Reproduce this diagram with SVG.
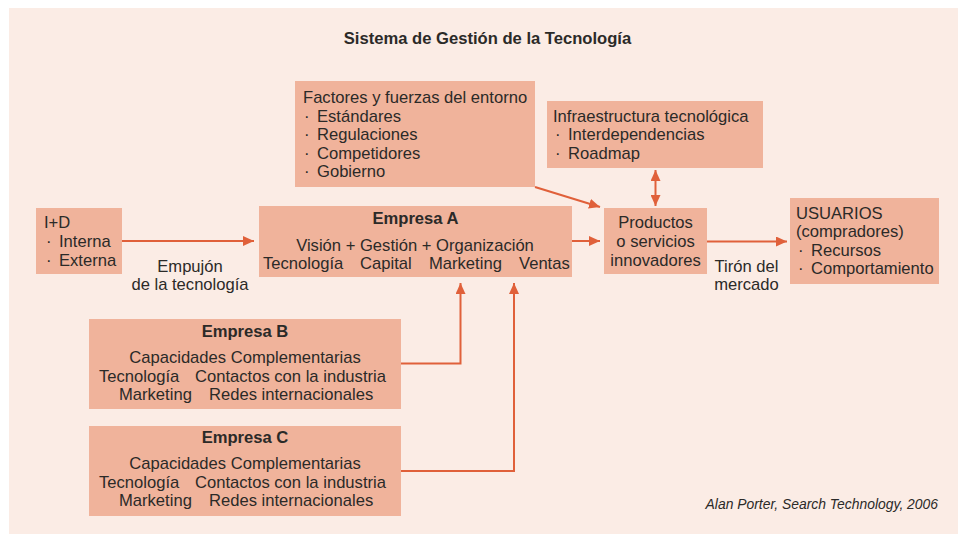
<svg xmlns="http://www.w3.org/2000/svg" width="962" height="534" viewBox="0 0 962 534">
<defs>
<marker id="ah" viewBox="0 0 11 10" refX="11" refY="5" markerWidth="11" markerHeight="10" markerUnits="userSpaceOnUse" orient="auto-start-reverse">
<path d="M0,0 L11,5 L0,10 z" fill="#e0603a"/>
</marker>
<style>
.box{fill:#f0b39b}
.t{font-family:"Liberation Sans",Arial,sans-serif;font-size:16.6px;fill:#2b2a28}
.b{font-weight:bold}
.c{text-anchor:middle}
.ln{fill:none;stroke:#e0603a;stroke-width:2}
.cr{font-family:"Liberation Sans",Arial,sans-serif;font-size:13.9px;font-style:italic;fill:#2b2a28;text-anchor:end}
</style>
</defs>
<rect x="0" y="0" width="962" height="534" fill="#ffffff"/>
<rect x="9" y="8" width="949" height="526" fill="#fbece5"/>
<text class="t b c" x="487.5" y="43.5">Sistema de Gestión de la Tecnología</text>

<g id="factores">
<rect class="box" x="295" y="81" width="240" height="106"/>
<text class="t" x="303" y="103">Factores y fuerzas del entorno</text>
<text class="t" x="304" y="121.5">·</text><text class="t" x="317" y="121.5">Estándares</text>
<text class="t" x="304" y="140">·</text><text class="t" x="317" y="140">Regulaciones</text>
<text class="t" x="304" y="158.5">·</text><text class="t" x="317" y="158.5">Competidores</text>
<text class="t" x="304" y="177">·</text><text class="t" x="317" y="177">Gobierno</text>
</g>

<g id="infraestructura">
<rect class="box" x="547" y="101" width="216" height="67"/>
<text class="t" x="553" y="121.5">Infraestructura tecnológica</text>
<text class="t" x="555" y="140">·</text><text class="t" x="568" y="140">Interdependencias</text>
<text class="t" x="555" y="158.5">·</text><text class="t" x="568" y="158.5">Roadmap</text>
</g>

<g id="id">
<rect class="box" x="36" y="208" width="86" height="66"/>
<text class="t" x="44" y="228">I+D</text>
<text class="t" x="46" y="247">·</text><text class="t" x="59" y="247">Interna</text>
<text class="t" x="46" y="266">·</text><text class="t" x="59" y="266">Externa</text>
</g>

<g id="empresaA">
<rect class="box" x="259" y="206" width="313" height="71"/>
<text class="t b c" x="415.5" y="224">Empresa A</text>
<text class="t c" x="415" y="250.5">Visión + Gestión + Organización</text>
<text class="t" y="269"><tspan x="263">Tecnología</tspan><tspan x="360">Capital</tspan><tspan x="429">Marketing</tspan><tspan x="519">Ventas</tspan></text>
</g>

<g id="productos">
<rect class="box" x="604" y="208" width="103" height="66"/>
<text class="t c" x="655.5" y="227.5">Productos</text>
<text class="t c" x="655.5" y="246.5">o servicios</text>
<text class="t c" x="655.5" y="265.5">innovadores</text>
</g>

<g id="usuarios">
<rect class="box" x="790" y="198" width="149" height="86"/>
<text class="t" x="796" y="218.5">USUARIOS</text>
<text class="t" x="796" y="237">(compradores)</text>
<text class="t" x="798" y="255.5">·</text><text class="t" x="811" y="255.5">Recursos</text>
<text class="t" x="798" y="274">·</text><text class="t" x="811" y="274">Comportamiento</text>
</g>

<g id="empresaB">
<rect class="box" x="89" y="319" width="312" height="90"/>
<text class="t b c" x="245" y="336.5">Empresa B</text>
<text class="t c" x="245" y="362.5">Capacidades Complementarias</text>
<text class="t" y="381.5"><tspan x="99">Tecnología</tspan><tspan x="195">Contactos con la industria</tspan></text>
<text class="t" y="400"><tspan x="119">Marketing</tspan><tspan x="209">Redes internacionales</tspan></text>
</g>

<g id="empresaC">
<rect class="box" x="89" y="426" width="312" height="90"/>
<text class="t b c" x="245" y="443">Empresa C</text>
<text class="t c" x="245" y="468.5">Capacidades Complementarias</text>
<text class="t" y="487.5"><tspan x="99">Tecnología</tspan><tspan x="195">Contactos con la industria</tspan></text>
<text class="t" y="506"><tspan x="119">Marketing</tspan><tspan x="209">Redes internacionales</tspan></text>
</g>

<g id="connectors">
<line class="ln" x1="122" y1="241" x2="254" y2="241" marker-end="url(#ah)"/>
<line class="ln" x1="572" y1="241" x2="600" y2="241" marker-end="url(#ah)"/>
<line class="ln" x1="535" y1="187" x2="600" y2="207" marker-end="url(#ah)"/>
<line class="ln" x1="655.5" y1="170" x2="655.5" y2="206" marker-start="url(#ah)" marker-end="url(#ah)"/>
<line class="ln" x1="707" y1="241.5" x2="787" y2="241.5" marker-end="url(#ah)"/>
<polyline class="ln" points="401,363.5 460.5,363.5 460.5,283" marker-end="url(#ah)"/>
<polyline class="ln" points="401,471 514,471 514,283" marker-end="url(#ah)"/>
</g>

<g id="labels">
<text class="t c" x="190" y="272">Empujón</text>
<text class="t c" x="190" y="290">de la tecnología</text>
<text class="t c" x="746.5" y="271.5">Tirón del</text>
<text class="t c" x="746.5" y="290">mercado</text>
<text class="cr" x="938" y="509">Alan Porter, Search Technology, 2006</text>
</g>
</svg>
